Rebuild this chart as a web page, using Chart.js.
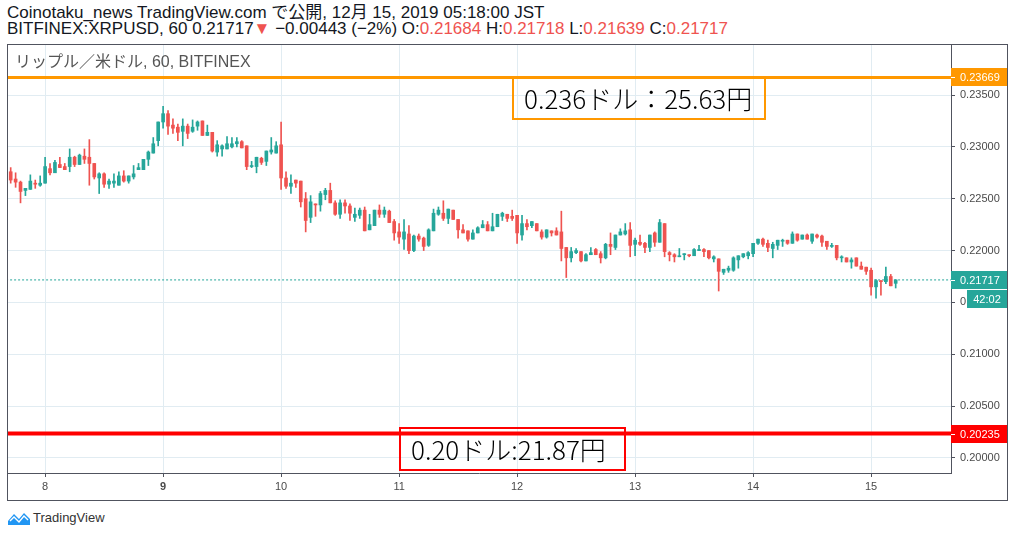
<!DOCTYPE html>
<html>
<head>
<meta charset="utf-8">
<script src="https://cdn.jsdelivr.net/npm/chart.js@4.4.0/dist/chart.umd.min.js"></script>
<style>
  body { margin: 0; background: #fff; width: 1014px; height: 537px; overflow: hidden; position: relative;
         font-family: "Liberation Sans", "Noto Sans CJK JP", sans-serif; color: #131722; }
  .hdr { position: absolute; left: 7px; font-size: 17px; line-height: 16px; white-space: nowrap; }
  .neg { color: #ef5350; }
  #wrap { position: absolute; left: 7px; top: 44px; width: 1001px; height: 457px; }
  #title { position: absolute; left: 15px; top: 54px; font-size: 16px; line-height: 16px; color: #555;
           white-space: nowrap; }
  .note { position: absolute; box-sizing: border-box; border: 2px solid; background: transparent;
          font-family: "Noto Sans CJK JP", sans-serif; font-size: 26px; color: #000; white-space: nowrap;
          font-weight: 300; }
  #tv { position: absolute; left: 7px; top: 509px; height: 18px; font-size: 13px; color: #333; }
  #tv span { position: absolute; left: 26px; top: 1px; }
</style>
</head>
<body>
<div class="hdr" style="top:5px">Coinotaku_news TradingView.com で公開, 12月 15, 2019 05:18:00 JST</div>
<div class="hdr" style="top:21px">BITFINEX:XRPUSD, 60 0.21717<span class="neg">▼</span> −0.00443 (−2%) O:<span class="neg">0.21684</span> H:<span class="neg">0.21718</span> L:<span class="neg">0.21639</span> C:<span class="neg">0.21717</span></div>
<div id="wrap"><canvas id="c" width="1001" height="457"></canvas></div>
<div id="title">リップル／米ドル, 60, BITFINEX</div>
<div class="note" style="left:512px;top:77px;width:254px;height:43px;border-color:#ff9800;padding:2px 0 0 10px;line-height:34px">0.236ドル：25.63円</div>
<div class="note" style="left:399px;top:427px;width:227px;height:44px;border-color:#ff0000;padding:2px 0 0 10px;line-height:36px">0.20ドル:21.87円</div>
<div id="tv">
  <svg width="24" height="18" viewBox="0 0 24 18"><path d="M1 16 L1 12 L7 5 L12 10 L17 4 L23 10 L23 16 Z" fill="#2196f3"/><path d="M3 12 L7 8 L12 13 L17 7 L21 11" stroke="#fff" stroke-width="1.4" fill="none"/></svg>
  <span>TradingView</span>
</div>
<script>
// hourly XRPUSD candles, Dec 7 17:00 .. Dec 15 05:00 JST
const opens = [
  .2276,.2269,.2266,.2258,.2259,.2265,.2263,.2265,.2279,.2275,
  .2283,.2281,.2281,.2290,.2283,.2291,.2290,.2284,.2270,.2274,
  .2264,.2265,.2263,.2272,.2267,.2271,.2278,.2278,.2288,.2294,
  .2306,.2324,.2332,.2321,.2319,.2315,.2320,.2315,.2320,.2325,
  .2311,.2314,.2295,.2298,.2298,.2300,.2303,.2305,.2301,.2281,
  .2281,.2289,.2286,.2295,.2294,.2302,.2270,.2262,.2268,.2267,
  .2250,.2232,.2245,.2244,.2254,.2258,.2246,.2235,.2246,.2243,
  .2232,.2234,.2239,.2220,.2224,.2239,.2235,.2238,.2228,.2218,
  .2211,.2216,.2200,.2214,.2212,.2205,.2219,.2235,.2236,.2231,
  .2239,.2230,.2220,.2219,.2211,.2217,.2222,.2225,.2219,.2223,
  .2233,.2235,.2233,.2234,.2215,.2226,.2224,.2226,.2218,.2213,
  .2219,.2219,.2218,.2203,.2193,.2198,.2199,.2190,.2196,.2201,
  .2197,.2193,.2206,.2203,.2215,.2216,.2220,.2206,.2208,.2207,
  .2203,.2217,.2208,.2226,.2198,.2196,.2194,.2196,.2196,.2195,
  .2200,.2201,.2200,.2192,.2192,.2179,.2181,.2181,.2191,.2194,
  .2195,.2197,.2207,.2211,.2207,.2202,.2205,.2209,.2210,.2207,
  .2216,.2211,.2215,.2209,.2215,.2214,.2209,.2204,.2205,.2193,
  .2193,.2189,.2193,.2185,.2184,.2181,.2165,.2171,.2170,.2175,
  .21684
];
const highs = [
  .2280,.2275,.2267,.2260,.2273,.2268,.2272,.2290,.2284,.2287,
  .2290,.2284,.2298,.2291,.2293,.2298,.2307,.2284,.2275,.2275,
  .2269,.2274,.2276,.2277,.2272,.2282,.2284,.2288,.2296,.2309,
  .2324,.2339,.2335,.2327,.2322,.2327,.2322,.2326,.2325,.2325,
  .2321,.2314,.2306,.2302,.2310,.2309,.2309,.2306,.2301,.2286,
  .2290,.2290,.2296,.2309,.2305,.2324,.2276,.2273,.2268,.2267,
  .2256,.2253,.2245,.2257,.2260,.2265,.2248,.2249,.2249,.2245,
  .2241,.2241,.2242,.2235,.2239,.2244,.2242,.2239,.2230,.2226,
  .2230,.2224,.2215,.2216,.2213,.2221,.2240,.2242,.2248,.2240,
  .2239,.2230,.2225,.2219,.2220,.2223,.2229,.2228,.2236,.2235,
  .2237,.2235,.2239,.2234,.2234,.2230,.2228,.2226,.2220,.2220,
  .2219,.2222,.2238,.2203,.2203,.2202,.2199,.2197,.2203,.2202,
  .2199,.2207,.2217,.2215,.2221,.2226,.2227,.2212,.2215,.2208,
  .2215,.2218,.2230,.2226,.2199,.2197,.2202,.2197,.2196,.2202,
  .2205,.2202,.2200,.2195,.2192,.2182,.2185,.2194,.2195,.2197,
  .2199,.2207,.2211,.2212,.2210,.2208,.2210,.2211,.2210,.2218,
  .2216,.2215,.2216,.2216,.2216,.2215,.2209,.2207,.2205,.2195,
  .2193,.2193,.2193,.2189,.2184,.2183,.2172,.2171,.2184,.2177,
  .21718
];
const lows = [
  .2265,.2261,.2246,.2253,.2259,.2260,.2262,.2265,.2273,.2275,
  .2280,.2278,.2276,.2281,.2283,.2284,.2263,.2269,.2255,.2261,
  .2260,.2261,.2263,.2266,.2265,.2269,.2278,.2278,.2282,.2294,
  .2301,.2318,.2312,.2313,.2306,.2301,.2308,.2314,.2316,.2311,
  .2311,.2295,.2291,.2291,.2298,.2299,.2300,.2299,.2278,.2280,
  .2275,.2283,.2282,.2293,.2294,.2259,.2260,.2255,.2261,.2242,
  .2218,.2227,.2233,.2238,.2249,.2246,.2234,.2231,.2236,.2229,
  .2228,.2231,.2219,.2220,.2224,.2232,.2232,.2227,.2210,.2207,
  .2201,.2197,.2199,.2209,.2200,.2204,.2219,.2234,.2229,.2226,
  .2230,.2212,.2217,.2209,.2211,.2217,.2222,.2219,.2219,.2223,
  .2229,.2228,.2229,.2207,.2210,.2220,.2222,.2219,.2211,.2212,
  .2214,.2215,.2190,.2174,.2189,.2197,.2189,.2190,.2196,.2196,
  .2188,.2192,.2196,.2201,.2215,.2215,.2194,.2195,.2205,.2198,
  .2199,.2204,.2208,.2194,.2190,.2189,.2194,.2191,.2194,.2195,
  .2200,.2194,.2192,.2189,.2161,.2177,.2179,.2180,.2183,.2193,
  .2192,.2194,.2206,.2204,.2199,.2193,.2201,.2204,.2206,.2207,
  .2209,.2211,.2211,.2207,.2212,.2204,.2201,.2203,.2191,.2189,
  .2189,.2183,.2185,.2182,.2177,.2157,.2154,.2157,.2168,.2166,
  .21639
];
const closes = [
  .2268,.2266,.2257,.2260,.2267,.2264,.2265,.2281,.2275,.2285,
  .2280,.2278,.2290,.2283,.2292,.2288,.2284,.2271,.2274,.2264,
  .2267,.2267,.2272,.2267,.2272,.2274,.2280,.2288,.2295,.2303,
  .2324,.2332,.2320,.2318,.2314,.2320,.2313,.2319,.2324,.2311,
  .2314,.2296,.2302,.2301,.2303,.2303,.2305,.2299,.2281,.2282,
  .2290,.2285,.2296,.2297,.2301,.2270,.2262,.2265,.2265,.2247,
  .2229,.2247,.2244,.2255,.2258,.2246,.2235,.2246,.2243,.2236,
  .2235,.2239,.2219,.2225,.2239,.2235,.2239,.2227,.2217,.2213,
  .2218,.2200,.2214,.2211,.2204,.2220,.2236,.2239,.2231,.2240,
  .2230,.2220,.2217,.2211,.2217,.2222,.2225,.2219,.2223,.2235,
  .2236,.2231,.2231,.2217,.2226,.2223,.2228,.2219,.2213,.2220,
  .2217,.2215,.2202,.2193,.2199,.2200,.2190,.2196,.2198,.2196,
  .2193,.2206,.2204,.2215,.2218,.2219,.2205,.2210,.2206,.2203,
  .2215,.2208,.2227,.2199,.2196,.2194,.2195,.2197,.2195,.2201,
  .2201,.2199,.2193,.2194,.2180,.2182,.2183,.2193,.2195,.2197,
  .2198,.2207,.2211,.2206,.2203,.2206,.2210,.2209,.2207,.2216,
  .2210,.2215,.2211,.2216,.2213,.2208,.2204,.2205,.2193,.2194,
  .2189,.2191,.2185,.2182,.2180,.2165,.2171,.2170,.2175,.2166,
  .21717
];

// x axis: day boundaries (hour index from first candle)
const dayTickIdx = [7, 31, 55, 79, 103, 127, 151, 175];
const dayLabels = ['8', '9', '10', '11', '12', '13', '14', '15'];
const boldDayLabel = '9';

const priceTicks = [0.200, 0.205, 0.210, 0.215, 0.220, 0.225, 0.230, 0.235];

const orangeLevel = 0.23669;
const redLevel = 0.20235;
const lastPrice = 0.21717;
const countdown = '42:02';

const UP = '#26a69a';
const DOWN = '#ef5350';
const FONT = '"Liberation Sans", sans-serif';

const candleColors = opens.map((o, i) => closes[i] >= o ? UP : DOWN);
const wickData = lows.map((l, i) => ({ x: i, y: [l, highs[i]] }));
const bodyData = opens.map((o, i) => ({ x: i, y: [Math.min(o, closes[i]), Math.max(o, closes[i])] }));

const xMin = -0.75, xMax = 191.25;
const levelLine = v => [{ x: xMin - 1, y: v }, { x: xMax + 1, y: v }];

// frame + price tags on the right axis
const tvDecor = {
    id: 'tvDecor',
    afterDraw(chart) {
        const ctx = chart.ctx;
        const area = chart.chartArea;
        const y = chart.scales.y;
        const right = chart.width - 1;
        ctx.save();
        const tag = (val, bg) => {
            const py = Math.round(y.getPixelForValue(val));
            ctx.fillStyle = bg;
            ctx.fillRect(area.right, py - 9, right - area.right, 18);
            ctx.strokeStyle = '#fff';
            ctx.lineWidth = 1;
            ctx.beginPath();
            ctx.moveTo(area.right, py + 0.5);
            ctx.lineTo(area.right + 4, py + 0.5);
            ctx.stroke();
            ctx.fillStyle = '#fff';
            ctx.font = '11px ' + FONT;
            ctx.textAlign = 'left';
            ctx.textBaseline = 'middle';
            ctx.fillText(val.toFixed(5), area.right + 9, py + 1);
            return py;
        };
        tag(orangeLevel, '#ff9800');
        tag(redLevel, '#ff0000');
        const py = tag(lastPrice, UP);
        ctx.fillStyle = UP;
        ctx.fillRect(area.right + 16, py + 10, right - area.right - 16, 18);
        ctx.fillStyle = '#fff';
        ctx.textAlign = 'center';
        ctx.fillText(countdown, (area.right + 16 + right) / 2, py + 20);

        ctx.strokeStyle = '#50535e';
        ctx.lineWidth = 1;
        ctx.strokeRect(0.5, 0.5, chart.width - 1, chart.height - 1);
        ctx.restore();
    }
};

new Chart(document.getElementById('c'), {
    data: {
        datasets: [
            {
                type: 'line', data: levelLine(lastPrice), borderColor: UP, borderWidth: 1,
                borderDash: [2, 2], pointRadius: 0, clip: 0, order: 5
            },
            {
                type: 'line', data: levelLine(orangeLevel), borderColor: '#ff9800', borderWidth: 3,
                pointRadius: 0, clip: 0, order: 4
            },
            {
                type: 'line', data: levelLine(redLevel), borderColor: '#ff0000', borderWidth: 4,
                pointRadius: 0, clip: 0, order: 4
            },
            {
                type: 'bar', data: wickData, backgroundColor: candleColors, barThickness: 1,
                grouped: false, borderWidth: 0, minBarLength: 1, order: 2
            },
            {
                type: 'bar', data: bodyData, backgroundColor: candleColors, barThickness: 3,
                grouped: false, borderWidth: 0, minBarLength: 1, order: 1
            }
        ]
    },
    options: {
        responsive: false,
        animation: false,
        devicePixelRatio: 1,
        layout: { padding: 0, autoPadding: false },
        plugins: { legend: { display: false }, tooltip: { enabled: false } },
        scales: {
            x: {
                type: 'linear', min: xMin, max: xMax, offset: false,
                afterBuildTicks: s => { s.ticks = dayTickIdx.map(v => ({ value: v })); },
                afterFit: s => { s.height = 28; s.paddingLeft = 0; s.paddingRight = 0; },
                grid: { color: '#e1ecf2', tickColor: '#50535e', tickLength: 4, offset: false },
                border: { color: '#50535e' },
                ticks: {
                    autoSkip: false, maxRotation: 0, padding: 3, color: '#4a4a4a',
                    callback: (v, i) => dayLabels[i],
                    font: c => ({ family: FONT, size: 11, weight: dayLabels[c.index] === boldDayLabel ? 'bold' : 'normal' })
                }
            },
            y: {
                type: 'linear', position: 'right', min: 0.19855, max: 0.23992,
                afterBuildTicks: s => { s.ticks = priceTicks.map(v => ({ value: v })); },
                afterFit: s => { s.width = 57; s.paddingTop = 0; s.paddingBottom = 0; },
                grid: { color: '#e1ecf2', tickColor: '#50535e', tickLength: 4 },
                border: { color: '#50535e' },
                ticks: {
                    padding: 5, color: '#4a4a4a', font: { family: FONT, size: 11 },
                    callback: v => v.toFixed(5)
                }
            }
        }
    },
    plugins: [tvDecor]
});
</script>
</body>
</html>
